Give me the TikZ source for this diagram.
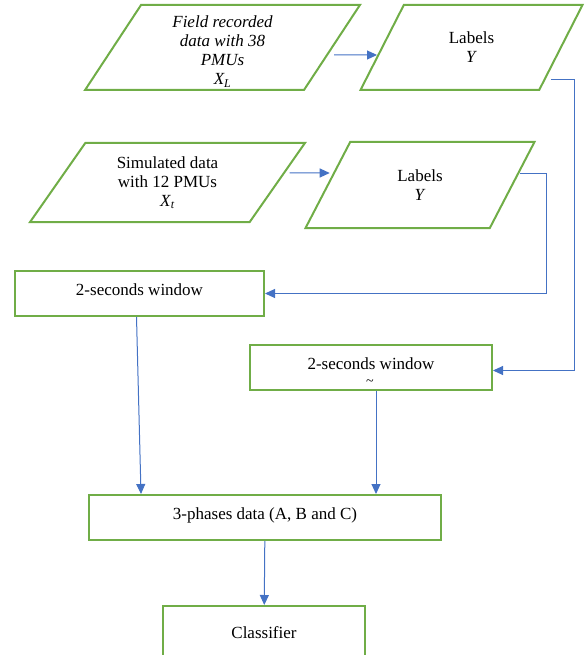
\documentclass[tikz,border=0pt]{standalone}
\usepackage{fontspec}
\setmainfont{Liberation Serif}
\usepackage{xcolor}
\usetikzlibrary{shapes.geometric}
\usetikzlibrary{arrows.meta, calc}

\definecolor{boxgreen}{RGB}{112,173,71}
\definecolor{linkblue}{RGB}{68,114,196}

\tikzset{
    data/.style={trapezium, trapezium left angle=57, trapezium right angle=123,
        trapezium stretches=true, draw=boxgreen, line width=2pt, align=center,
        inner sep=0pt, minimum width=275pt, minimum height=85pt},
    labl/.style={data, trapezium left angle=64.8, trapezium right angle=115.2,
        minimum width=223pt},
    stage/.style={rectangle, draw=boxgreen, line width=2pt, align=center,
        minimum height=45pt, text height=10pt, text depth=6pt},
    link/.style={draw=linkblue, line width=1pt, -{Triangle[length=10pt, width=9pt]}}
}

\begin{document}
\begin{tikzpicture}[x=1pt, y=-1pt, font=\fontsize{17}{19}\selectfont]
        \useasboundingbox (0,0) rectangle (584,655);
        \clip (0,0) rectangle (584,655);

        % Nodes
        \node[data, trapezium left angle=65, trapezium right angle=115] (fld) at (222.5,47.5) {\phantom{M}};
        \node[align=center, font=\fontsize{17}{19}\selectfont\itshape] (fldtxt) at ($(fld)+(0,4)$) {Field recorded\\data with 38\\PMUs\\X\textsubscript{L}};
        \node[labl] (lab1) at (471.5,47.5) {Labels\\\textit{Y}};
        \node[data, minimum height=79pt] (sim) at (167.5,182.5) {Simulated data\\with 12 PMUs\\\textit{X}\textsubscript{\textit{t}}};
        \node[labl, minimum width=230pt, minimum height=86pt] (lab2) at (420,185) {Labels\\\textit{Y}};
        \node[stage, minimum width=249pt] (win1) at (139.5,293.5) {2-seconds window};
        \node[stage, minimum width=242pt] (win2) at (371,367.5) {2-seconds window};
        \node[inner sep=0pt, font=\fontsize{14}{14}\selectfont] (win2mark) at ($(win2)+(-1,15)$) {\textasciitilde};
        \node[stage, minimum width=352pt] (ph) at (265,517.5) {3-phases data (A, B and C)};
        \node[stage, minimum width=202pt, minimum height=60pt] (cls) at (264,636) {Classifier};

        % Lines
        \draw[link] ($(fld.0)+(1,7.5)$) -- ($(lab1.180)+(-4,7.5)$);
        \draw[link] ($(sim.0)+(11,-9.5)$) -- ($(lab2.180)+(3,-12)$);
        \draw[link] ($(lab2.0)+(7,-11)$) -- ++(26,0) |- (win1.east);
        \draw[link] ($(lab1.0)+(-11,32.5)$) -- ++(24,0) |- ($(win2.east)+(0,3)$);
        \draw[link] ($(win1.south)+(-3,0)$) -- ($(ph.north west)+(53,0)$);
        \draw[link] ($(win2.south)+(5,0)$) coordinate (w2o) -- (w2o |- ph.north);
        \draw[link] (ph) -- (cls);
    \end{tikzpicture}
\end{document}
